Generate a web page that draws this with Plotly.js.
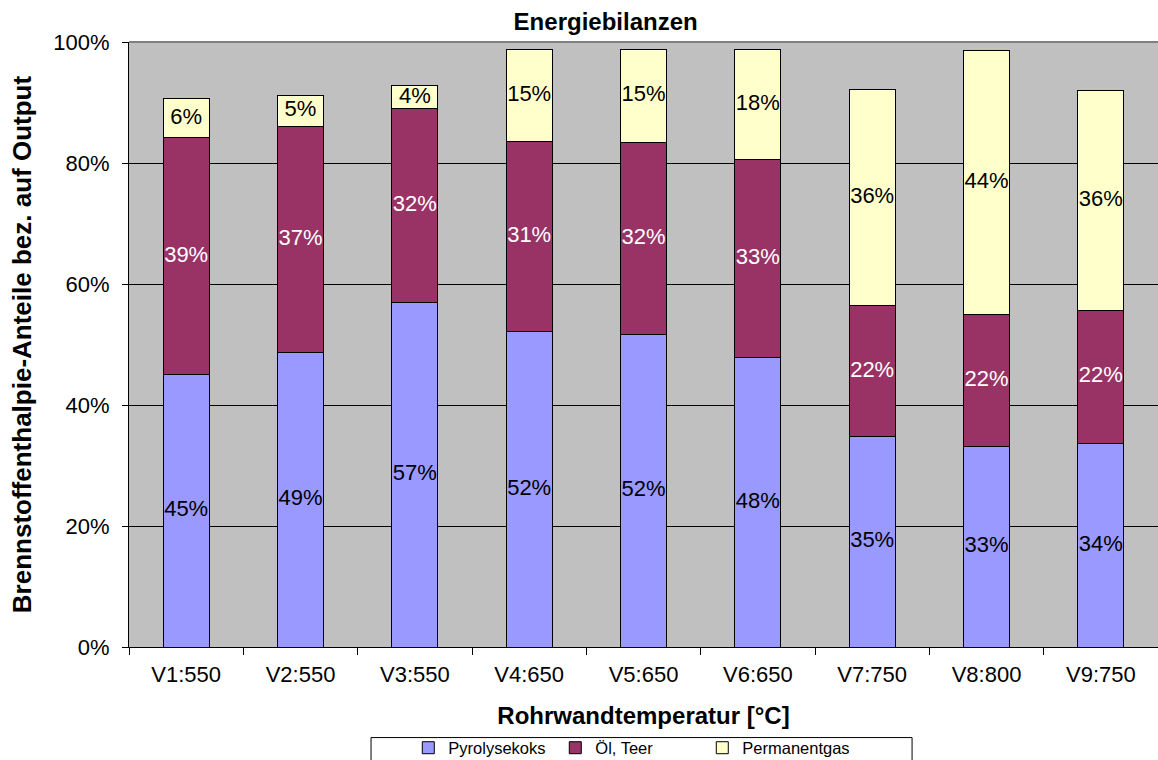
<!DOCTYPE html>
<html>
<head>
<meta charset="utf-8">
<script src="https://cdn.plot.ly/plotly-3.0.1.min.js"></script>
<style>html,body{margin:0;padding:0;background:#fff;}#chart{width:1158px;height:760px;}</style>
</head>
<body>
<div id="chart"></div>
<script>
const categories = ["V1:550","V2:550","V3:550","V4:650","V5:650","V6:650","V7:750","V8:800","V9:750"];
const pyrolysekoks = [45.0, 48.7, 57.0, 52.2, 51.7, 47.9, 34.8, 33.1, 33.7];
const oelTeer      = [39.2, 37.3, 32.0, 31.4, 31.7, 32.6, 21.6, 21.9, 21.9];
const permanentgas = [6.4, 5.2, 3.8, 15.2, 15.4, 18.3, 35.7, 43.6, 36.4];
const seriesNames = ["Pyrolysekoks", "Öl, Teer", "Permanentgas"];
const yTickVals = [0, 20, 40, 60, 80, 100];
const yTickText = ["0%", "20%", "40%", "60%", "80%", "100%"];

const FONT = "Liberation Sans, Arial, sans-serif";
const colors = ["#9999FF", "#993366", "#FFFFCC"];
const labelColors = ["#000000", "#FFFFFF", "#000000"];
const series = [pyrolysekoks, oelTeer, permanentgas];

const traces = [];
series.forEach((vals, i) => {
  traces.push({
    type: "bar", name: seriesNames[i], x: categories, y: vals,
    marker: {color: colors[i], line: {color: "#000000", width: 1}},
    hoverinfo: "x+y+name"
  });
});
// data labels, centred in each stacked segment
const base = categories.map(() => 0);
series.forEach((vals, i) => {
  const mids = vals.map((v, k) => base[k] + v / 2);
  vals.forEach((v, k) => { base[k] += v; });
  traces.push({
    type: "scatter", mode: "text", x: categories, y: mids,
    text: vals.map(v => Math.round(v) + "%"),
    textposition: "middle center",
    textfont: {family: FONT, size: 22, color: labelColors[i]},
    showlegend: false, hoverinfo: "skip", cliponaxis: false
  });
});

const layout = {
  width: 1158, height: 760,
  margin: {l: 129, r: 0, t: 42, b: 113, pad: 0, autoexpand: false},
  paper_bgcolor: "#FFFFFF",
  plot_bgcolor: "#C0C0C0",
  barmode: "stack",
  bargap: 0.6,
  font: {family: FONT, color: "#000000"},
  title: {
    text: "<b>Energiebilanzen</b>",
    font: {family: FONT, size: 24, color: "#000000"},
    xref: "container", x: 0.523, xanchor: "center",
    yref: "container", y: 0.971, yanchor: "middle"
  },
  xaxis: {
    type: "category",
    tickson: "boundaries",
    ticks: "outside", ticklen: 7, tickcolor: "#000000", tickwidth: 1,
    ticklabelstandoff: 8,
    showline: true, linecolor: "#000000", linewidth: 1,
    showgrid: false, zeroline: false,
    tickfont: {family: FONT, size: 22, color: "#000000"},
    title: {text: "<b>Rohrwandtemperatur [°C]</b>", font: {family: FONT, size: 24, color: "#000000"}, standoff: 20},
    automargin: false
  },
  yaxis: {
    range: [0, 100],
    tickvals: yTickVals, ticktext: yTickText,
    ticks: "outside", ticklen: 6, tickcolor: "#000000", tickwidth: 1,
    ticklabelstandoff: 8,
    showline: true, linecolor: "#000000", linewidth: 1,
    showgrid: true, gridcolor: "#000000", gridwidth: 1,
    zeroline: false,
    tickfont: {family: FONT, size: 22, color: "#000000"},
    title: {text: "<b>Brennstoffenthalpie-Anteile bez. auf Output</b>", font: {family: FONT, size: 26, color: "#000000"}, standoff: 14},
    automargin: false
  },
  legend: {
    orientation: "h",
    xref: "container", x: 0.543, xanchor: "center",
    yref: "container", y: 0.0158, yanchor: "middle",
    bgcolor: "rgba(0,0,0,0)",
    font: {family: FONT, size: 16.5, color: "#000000"},
    entrywidth: 102, entrywidthmode: "pixels",
    itemwidth: 30,
    traceorder: "normal"
  },
  shapes: [
    {type: "rect", xref: "paper", yref: "paper", x0: 0.2352, x1: 0.761, y0: -0.19, y1: -0.1497,
     line: {color: "#000000", width: 1}, fillcolor: "rgba(0,0,0,0)", layer: "above"},
    {type: "line", xref: "paper", yref: "paper", x0: 0, x1: 1, y0: 1, y1: 1,
     line: {color: "#808080", width: 2}, layer: "above"}
  ],
  showlegend: true
};

Plotly.newPlot("chart", traces, layout, {displayModeBar: false, staticPlot: true});
</script>
</body>
</html>
